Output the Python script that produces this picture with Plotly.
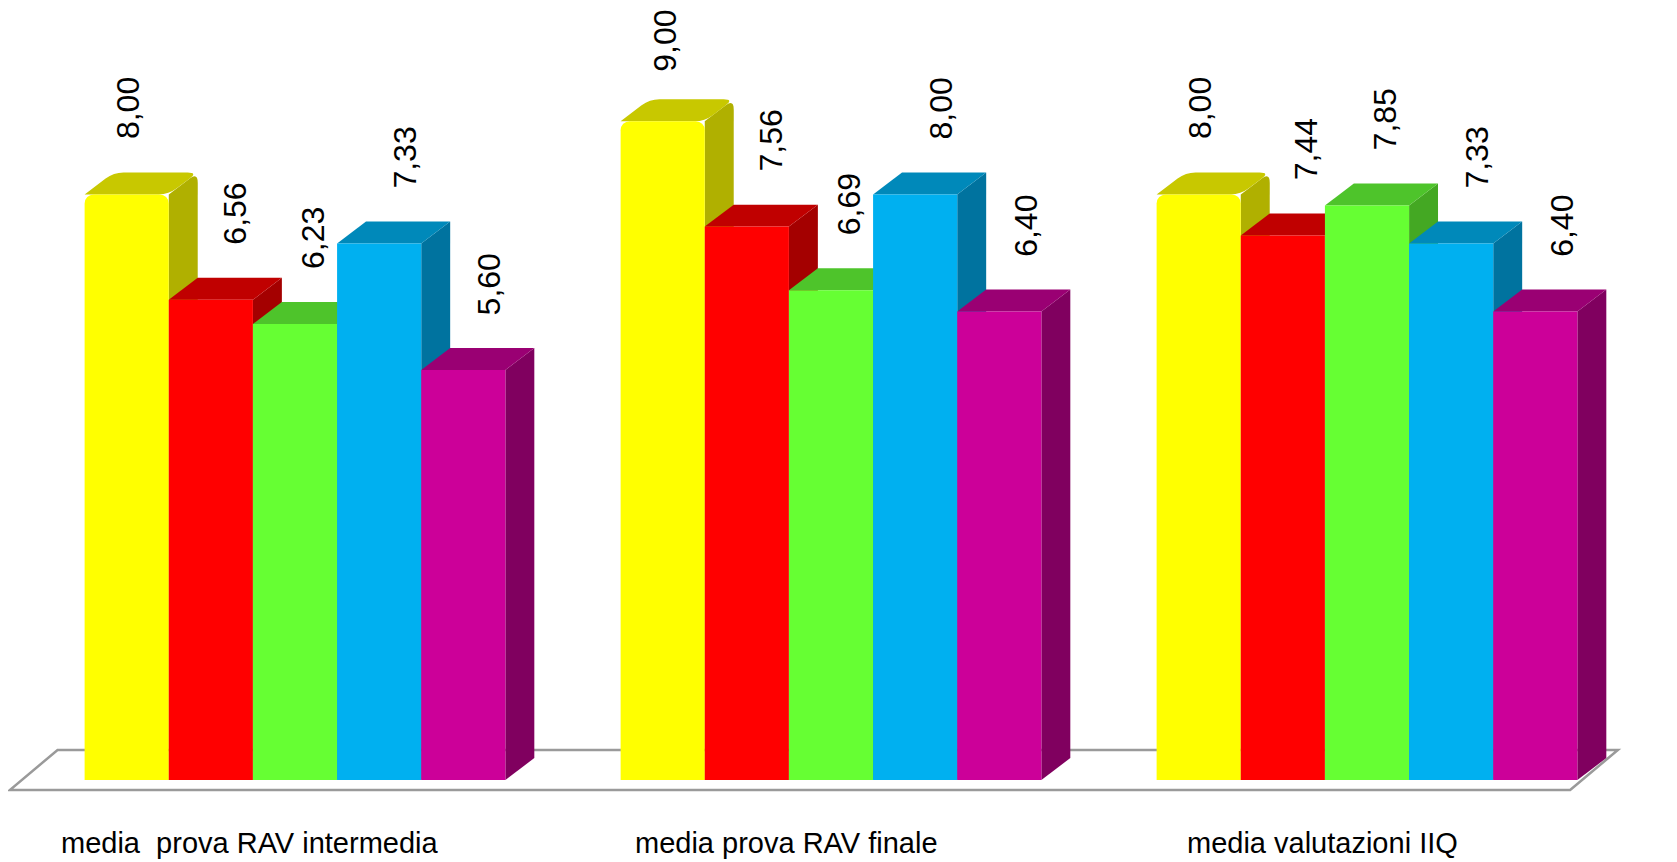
import plotly.graph_objects as go

# categorie e valori (medie)
categories = ["media\u00a0 prova RAV intermedia", "media prova RAV finale", "media valutazioni IIQ"]
yellow_vals = [8.00, 9.00, 8.00]
red_vals = [6.56, 7.56, 7.44]
green_vals = [6.23, 6.69, 7.85]
blue_vals = [7.33, 8.00, 7.33]
magenta_vals = [5.60, 6.40, 6.40]

series = [yellow_vals, red_vals, green_vals, blue_vals, magenta_vals]
# (fronte, sopra, lato)
colors = [
    ("#FFFF00", "#C8C800", "#B0B000"),
    ("#FF0000", "#C00000", "#A40000"),
    ("#66FF33", "#4EC42B", "#44A823"),
    ("#00B0F0", "#0089BA", "#00739F"),
    ("#CC0099", "#9A0073", "#80005F"),
]

W, H = 1669, 854          # la pagina ha un margine di 8px
PX_X, PX_Y = 536.0, 73.2  # pixel per unità
X0_PX, Y0_PX = 287.0, 772.0

BAR_W = 0.157   # larghezza barra in unità x
DX = 0.054      # profondità 3D in x
DY = 0.30       # profondità 3D in y
LABEL_XSHIFT = [2, 24, 18, 26, 26]
LABEL_LEN = 64  # lunghezza etichetta ruotata, px


def poly_path(pts, round_idx=(), rad=9):
    # percorso SVG, con angoli arrotondati (raggio in pixel) sugli indici dati
    n = len(pts)
    out = []
    for i, (x, y) in enumerate(pts):
        if i in round_idx:
            ax, ay = pts[i - 1]
            bx, by = pts[(i + 1) % n]
            def toward(px_, py_):
                ddx, ddy = (px_ - x) * PX_X, (py_ - y) * PX_Y
                d = (ddx ** 2 + ddy ** 2) ** 0.5
                t = min(rad / d, 0.45) if d else 0
                return x + (px_ - x) * t, y + (py_ - y) * t
            p1 = toward(ax, ay)
            p2 = toward(bx, by)
            out.append(f"{'M' if i == 0 else 'L'} {p1[0]},{p1[1]} Q {x},{y} {p2[0]},{p2[1]}")
        else:
            out.append(f"{'M' if i == 0 else 'L'} {x},{y}")
    return " ".join(out) + " Z"


fig = go.Figure()
shapes = []
annotations = []

# pavimento
FLOOR_FRONT, FLOOR_BACK = -0.137, 0.41
FLOOR_X0, FLOOR_X1, FLOOR_SKEW = -0.532, 2.379, 0.089
shapes.append(dict(
    type="path", layer="below", xref="x", yref="y",
    path=poly_path([(FLOOR_X0, FLOOR_FRONT), (FLOOR_X1, FLOOR_FRONT),
                    (FLOOR_X1 + FLOOR_SKEW, FLOOR_BACK), (FLOOR_X0 + FLOOR_SKEW, FLOOR_BACK)]),
    fillcolor="white", line=dict(color="#9A9A9A", width=2.5),
))

for g in range(len(categories)):
    for k, vals in enumerate(series):
        v = vals[g]
        left = g + (k - 2.5) * BAR_W
        right = left + BAR_W
        front, top, side = colors[k]
        rnd_top = (1, 2, 3) if k == 0 else ()
        rnd_side = (2,) if k == 0 else ()
        # faccia laterale
        shapes.append(dict(
            type="path", layer="below", xref="x", yref="y",
            path=poly_path([(right, 0), (right + DX, DY), (right + DX, v + DY), (right, v)], rnd_side, 10),
            fillcolor=side, line=dict(width=0),
        ))
        # faccia superiore
        shapes.append(dict(
            type="path", layer="below", xref="x", yref="y",
            path=poly_path([(left, v), (right, v), (right + DX, v + DY), (left + DX, v + DY)], rnd_top, 10),
            fillcolor=top, line=dict(width=0),
        ))
        # etichetta sopra la barra, tenuta dentro la figura
        bar_top_px = Y0_PX - PX_Y * v
        yshift = min(53, bar_top_px - LABEL_LEN - 2)
        annotations.append(dict(
            x=g + (k - 2) * BAR_W, y=v, xref="x", yref="y",
            text=f"{v:.2f}".replace(".", ","), textangle=-90,
            showarrow=False, yanchor="bottom", xanchor="center",
            yshift=yshift, xshift=LABEL_XSHIFT[k],
            font=dict(family="Liberation Sans, Arial", size=32, color="black"),
        ))

for k, vals in enumerate(series):
    fig.add_trace(go.Bar(
        x=[g + (k - 2) * BAR_W for g in range(len(categories))],
        y=vals,
        width=BAR_W,
        marker=dict(color=colors[k][0], line=dict(width=0), cornerradius=9 if k == 0 else 0),
        showlegend=False,
        hoverinfo="y",
    ))

for g, cat in enumerate(categories):
    annotations.append(dict(
        x=g, y=-0.86, xref="x", yref="y", text=cat, showarrow=False,
        xshift=-45, xanchor="center", yanchor="middle",
        font=dict(family="Liberation Sans, Arial", size=29, color="black"),
    ))

fig.update_layout(
    width=W, height=H,
    margin=dict(l=0, r=0, t=0, b=0),
    paper_bgcolor="white", plot_bgcolor="white",
    barmode="overlay",
    shapes=shapes, annotations=annotations,
    xaxis=dict(range=[-X0_PX / PX_X, (W - X0_PX) / PX_X], visible=False, fixedrange=True),
    yaxis=dict(range=[(Y0_PX - H) / PX_Y, Y0_PX / PX_Y], visible=False, fixedrange=True),
)

fig.write_html("out.html")
